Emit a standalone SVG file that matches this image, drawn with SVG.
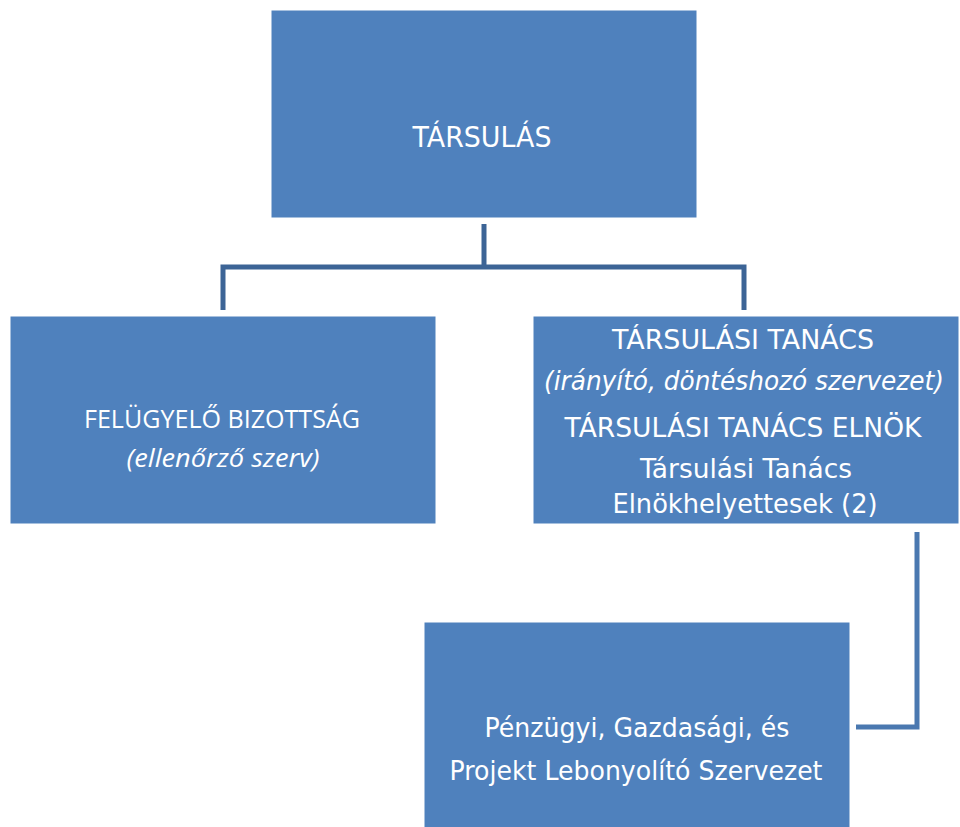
<svg xmlns="http://www.w3.org/2000/svg" width="960" height="827" viewBox="0 0 960 827">
<style>
.box{fill:#4F81BD;stroke:#FFFFFF;stroke-width:1}
.t{fill:#FFFFFF;font-family:"DejaVu Sans","Liberation Sans",sans-serif;text-anchor:middle}
.c{fill:#FFFFFF;font-family:"Open Sans","Liberation Sans",sans-serif;text-anchor:middle}
.conn{fill:none;stroke:#3C6496;stroke-width:5;stroke-linejoin:miter}
.conn2{fill:none;stroke:#4A78B0;stroke-width:5}
</style>
<rect width="960" height="827" fill="#FFFFFF"/>
<g id="connectors">
<path class="conn" d="M484,224 V267 M223,310 V267 H744 V310"/>
<path class="conn2" d="M917,532 V727 H856"/>
</g>
<g id="tarsulas">
<rect class="box" x="271" y="10" width="426" height="208"/>
<text class="t" x="482" y="147" font-size="29" textLength="139" lengthAdjust="spacingAndGlyphs">TÁRSULÁS</text>
</g>
<g id="felugyelo">
<rect class="box" x="10" y="316" width="426" height="208"/>
<text class="c" x="222" y="428" font-size="25" textLength="276" lengthAdjust="spacingAndGlyphs">FELÜGYELŐ BIZOTTSÁG</text>
<text class="c" x="223" y="467" font-size="25" font-style="italic" textLength="193" lengthAdjust="spacingAndGlyphs">(ellenőrző szerv)</text>
</g>
<g id="tanacs">
<rect class="box" x="533" y="316" width="426" height="208"/>
<text class="t" x="743" y="349" font-size="27" textLength="262" lengthAdjust="spacingAndGlyphs">TÁRSULÁSI TANÁCS</text>
<text class="t" x="744" y="390" font-size="26" font-style="italic" textLength="400" lengthAdjust="spacingAndGlyphs">(irányító, döntéshozó szervezet)</text>
<text class="t" x="743" y="437" font-size="27" textLength="357" lengthAdjust="spacingAndGlyphs">TÁRSULÁSI TANÁCS ELNÖK</text>
<text class="t" x="746" y="478" font-size="27" textLength="212" lengthAdjust="spacingAndGlyphs">Társulási Tanács</text>
<text class="t" x="745" y="513" font-size="27" textLength="265" lengthAdjust="spacingAndGlyphs">Elnökhelyettesek (2)</text>
</g>
<g id="penzugyi">
<rect class="box" x="424" y="622" width="426" height="210"/>
<text class="t" x="637" y="737" font-size="27" textLength="305" lengthAdjust="spacingAndGlyphs">Pénzügyi, Gazdasági, és</text>
<text class="t" x="636" y="780" font-size="27" textLength="373" lengthAdjust="spacingAndGlyphs">Projekt Lebonyolító Szervezet</text>
</g>
</svg>
